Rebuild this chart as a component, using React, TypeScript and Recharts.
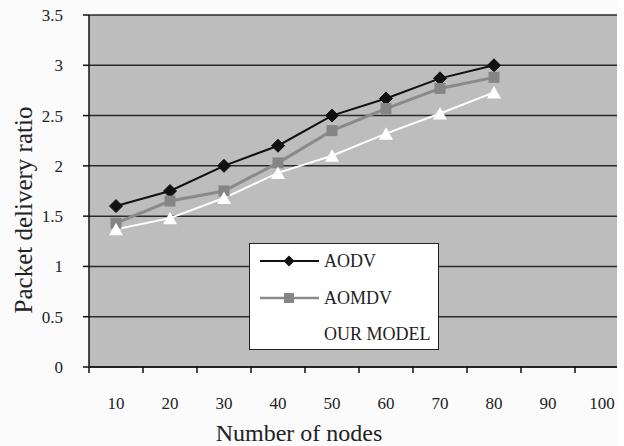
import React from "react";
import { LineChart, Line, XAxis, YAxis, CartesianGrid, Legend } from "recharts";

const nodes = [10, 20, 30, 40, 50, 60, 70, 80];
const aodv = [1.6, 1.75, 2.0, 2.2, 2.5, 2.67, 2.87, 3.0];
const aomdv = [1.43, 1.65, 1.75, 2.03, 2.35, 2.57, 2.77, 2.88];
const ourModel = [1.37, 1.48, 1.68, 1.93, 2.1, 2.32, 2.52, 2.73];
const xTicks = [10, 20, 30, 40, 50, 60, 70, 80, 90, 100];
const yTicks = [0, 0.5, 1, 1.5, 2, 2.5, 3, 3.5];
const seriesNames = ["AODV", "AOMDV", "OUR MODEL"];

const data = nodes.map((n, i) => ({
  nodes: n,
  aodv: aodv[i],
  aomdv: aomdv[i],
  our: ourModel[i],
}));

const CHART_W = 640;
const CHART_H = 446;
const Y_W = 89;
const M_RIGHT = 11;
const PLOT_W = CHART_W - Y_W - M_RIGHT;
const HALF_BAND = PLOT_W / xTicks.length / 2;
const FONT = "'Liberation Serif', 'Times New Roman', serif";

const XTick = (props: any) => {
  const { x, y, payload } = props;
  return (
    <g>
      <line x1={x - HALF_BAND} x2={x - HALF_BAND} y1={y - 6} y2={y} stroke="#111" strokeWidth={1.5} />
      <text x={x} y={y + 36} textAnchor="middle" fontFamily={FONT} fontSize={17} fill="#222">
        {payload.value}
      </text>
    </g>
  );
};

const YTick = (props: any) => {
  const { x, y, payload } = props;
  return (
    <text x={x} y={y} dy={6} textAnchor="end" fontFamily={FONT} fontSize={17} fill="#222">
      {payload.value}
    </text>
  );
};

const Diamond = (props: any) => {
  const { cx, cy, index } = props;
  if (cx == null || cy == null) return <g key={index} />;
  const s = 6.5;
  return (
    <polygon key={index} points={`${cx},${cy - s} ${cx + s},${cy} ${cx},${cy + s} ${cx - s},${cy}`} fill="#111" stroke="#111" />
  );
};

const Square = (props: any) => {
  const { cx, cy, index } = props;
  if (cx == null || cy == null) return <g key={index} />;
  const s = 5.5;
  return <rect key={index} x={cx - s} y={cy - s} width={2 * s} height={2 * s} fill="#858585" />;
};

const Triangle = (props: any) => {
  const { cx, cy, index } = props;
  if (cx == null || cy == null) return <g key={index} />;
  return (
    <polygon key={index} points={`${cx},${cy - 6.5} ${cx + 7},${cy + 6} ${cx - 7},${cy + 6}`} fill="#ffffff" />
  );
};

const LegendBox = () => (
  <div
    style={{
      position: "relative",
      width: 190,
      height: 107,
      boxSizing: "border-box",
      border: "1.5px solid #222",
      background: "#ffffff",
      fontFamily: FONT,
      fontSize: 18,
      color: "#222",
    }}
  >
    {seriesNames.map((name, i) => (
      <div key={name} style={{ position: "absolute", left: 9, top: 17 + i * 36.5 - 10, height: 20, display: "flex", alignItems: "center" }}>
        <svg width={62} height={20} style={{ display: "block" }}>
          {i === 0 && (
            <g>
              <line x1={1} x2={60} y1={10} y2={10} stroke="#111" strokeWidth={2} />
              <polygon points="30,4.5 35.5,10 30,15.5 24.5,10" fill="#111" />
            </g>
          )}
          {i === 1 && (
            <g>
              <line x1={1} x2={60} y1={10} y2={10} stroke="#8a8a8a" strokeWidth={2.5} />
              <rect x={25} y={5} width={10} height={10} fill="#858585" />
            </g>
          )}
        </svg>
        <span style={{ marginLeft: 3, lineHeight: "20px", whiteSpace: "nowrap" }}>{name}</span>
      </div>
    ))}
  </div>
);

export default function App() {
  return (
    <div
      style={{
        position: "absolute",
        left: 0,
        top: 0,
        width: 617,
        height: CHART_H,
        overflow: "hidden",
        background: "#fbfbfb",
      }}
    >
      <LineChart width={CHART_W} height={CHART_H} data={data} margin={{ top: 15, right: M_RIGHT, bottom: 19, left: 0 }}>
        <CartesianGrid vertical={false} fill="#bdbdbd" stroke="#2a2a2a" strokeWidth={1.5} />
        <XAxis
          dataKey="nodes"
          type="number"
          domain={[5, 105]}
          ticks={xTicks}
          interval={0}
          height={60}
          tickSize={6}
          tickMargin={0}
          tickLine={false}
          axisLine={{ stroke: "#111", strokeWidth: 1.5 }}
          tick={<XTick />}
          label={{
            content: () => (
              <text x={299} y={441} textAnchor="middle" fontFamily={FONT} fontSize={24} fill="#222">
                Number of nodes
              </text>
            ),
          }}
        />
        <YAxis
          type="number"
          domain={[0, 3.5]}
          ticks={yTicks}
          interval={0}
          width={Y_W}
          tickSize={6}
          tickMargin={20}
          axisLine={{ stroke: "#111", strokeWidth: 1.5 }}
          tickLine={{ stroke: "#111", strokeWidth: 1.5 }}
          tick={<YTick />}
          label={{
            content: () => (
              <text
                x={23}
                y={210}
                transform="rotate(-90 23 210)"
                textAnchor="middle"
                dominantBaseline="central"
                fontFamily={FONT}
                fontSize={25}
                fill="#222"
              >
                Packet delivery ratio
              </text>
            ),
          }}
        />
        <Legend
          layout="horizontal"
          verticalAlign="middle"
          align="center"
          content={<LegendBox />}
          wrapperStyle={{ left: 249, top: 243, width: 190, height: 107 }}
        />
        <Line dataKey="aodv" name="AODV" stroke="#111" strokeWidth={2} dot={<Diamond />} activeDot={false} isAnimationActive={false} />
        <Line dataKey="aomdv" name="AOMDV" stroke="#8a8a8a" strokeWidth={3} dot={<Square />} activeDot={false} isAnimationActive={false} />
        <Line dataKey="our" name="OUR MODEL" stroke="#ffffff" strokeWidth={2} dot={<Triangle />} activeDot={false} isAnimationActive={false} />
      </LineChart>
    </div>
  );
}
